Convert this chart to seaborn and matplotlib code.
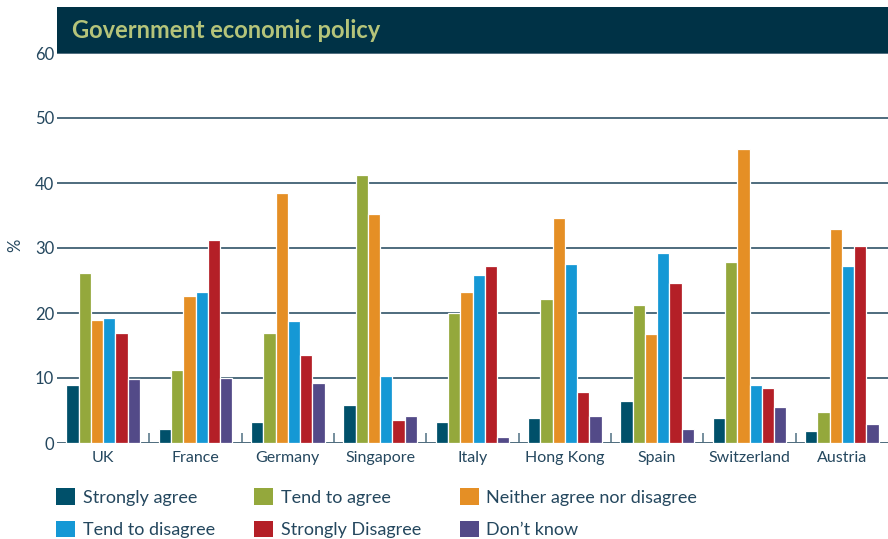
import matplotlib
matplotlib.use("Agg")
import matplotlib.pyplot as plt
import seaborn as sns
import pandas as pd
from matplotlib.patches import Rectangle, Patch

sns.set_theme(style="white")
plt.rcParams['font.family'] = ['Lato', 'DejaVu Sans']

countries = ["UK", "France", "Germany", "Singapore", "Italy", "Hong Kong", "Spain", "Switzerland", "Austria"]
responses = ["Strongly agree", "Tend to agree", "Neither agree nor disagree",
             "Tend to disagree", "Strongly Disagree", "Don\u2019t know"]

strongly_agree = [9.0, 2.1, 3.2, 5.8, 3.2, 3.9, 6.4, 3.8, 1.8]
tend_to_agree = [26.1, 11.3, 17.0, 41.2, 20.0, 22.1, 21.2, 27.8, 4.7]
neither = [18.9, 22.6, 38.4, 35.3, 23.2, 34.6, 16.7, 45.3, 33.0]
tend_to_disagree = [19.2, 23.2, 18.7, 10.3, 25.8, 27.6, 29.2, 9.0, 27.3]
strongly_disagree = [17.0, 31.2, 13.6, 3.5, 27.2, 7.8, 24.6, 8.4, 30.3]
dont_know = [9.8, 10.0, 9.2, 4.1, 1.0, 4.1, 2.1, 5.6, 2.9]

colors = ["#00506A", "#94A83C", "#E58F25", "#1598D5", "#B41F27", "#534A88"]
text_color = "#24475E"
grid_color = "#4E6B7D"

series = [strongly_agree, tend_to_agree, neither, tend_to_disagree, strongly_disagree, dont_know]
rows = []
for resp, vals in zip(responses, series):
    for c, v in zip(countries, vals):
        rows.append({"Country": c, "Response": resp, "Value": v})
df = pd.DataFrame(rows)

fig = plt.figure(figsize=(8.88, 5.39), dpi=100)
ax = fig.add_axes([57/888, 1 - 443/539, 1 - 57/888, (443 - 53)/539])

sns.barplot(data=df, x="Country", y="Value", hue="Response", order=countries,
            hue_order=responses, palette=colors, width=0.8, edgecolor="white",
            linewidth=0.9, saturation=1, ax=ax, legend=False, zorder=3)

ax.set_ylim(0, 60)
ax.set_xlim(-0.5, len(countries) - 0.5)
ax.set_yticks(range(0, 61, 10))
ax.yaxis.grid(True, color=grid_color, linewidth=1.4, zorder=0)
ax.set_axisbelow(True)
for s in ax.spines.values():
    s.set_visible(False)
ax.set_xlabel("")
ax.set_ylabel("")
ax.tick_params(axis="y", length=0, pad=2, labelsize=12, labelcolor=text_color)
ax.tick_params(axis="x", which="major", length=0, pad=6, labelsize=11.5, labelcolor=text_color)
ax.set_xticks([i + 0.5 for i in range(len(countries) - 1)], minor=True)
ax.tick_params(axis="x", which="minor", direction="in", length=7, width=1.2,
               color="#5E7C8C", bottom=True)

fig.text(15/888, 1 - 245/539, "%", rotation=90, ha="center", va="center",
         color=text_color, fontsize=12)

# Title banner
fig.add_artist(Rectangle((57/888, 1 - 53/539), 1 - 57/888, 46/539,
                         transform=fig.transFigure, facecolor="#003246",
                         edgecolor="none", zorder=5))
fig.text(72/888, 1 - 30/539, "Government economic policy", color="#B5C47A",
         fontsize=17, fontweight="bold", va="center", ha="left", zorder=6)

# Legend
handles = [Patch(facecolor=c, edgecolor="none", label=r) for c, r in zip(colors, responses)]
order = [0, 3, 1, 4, 2, 5]
leg = fig.legend([handles[i] for i in order], [responses[i] for i in order],
                 ncol=3, loc="upper left", bbox_to_anchor=(49/888, 1 - 481/539),
                 frameon=False, fontsize=13, labelcolor=text_color,
                 handlelength=1.05, handleheight=1.05, handletextpad=0.43,
                 columnspacing=2.15, labelspacing=0.82, borderaxespad=0)

fig.savefig("out.png", dpi=100)
